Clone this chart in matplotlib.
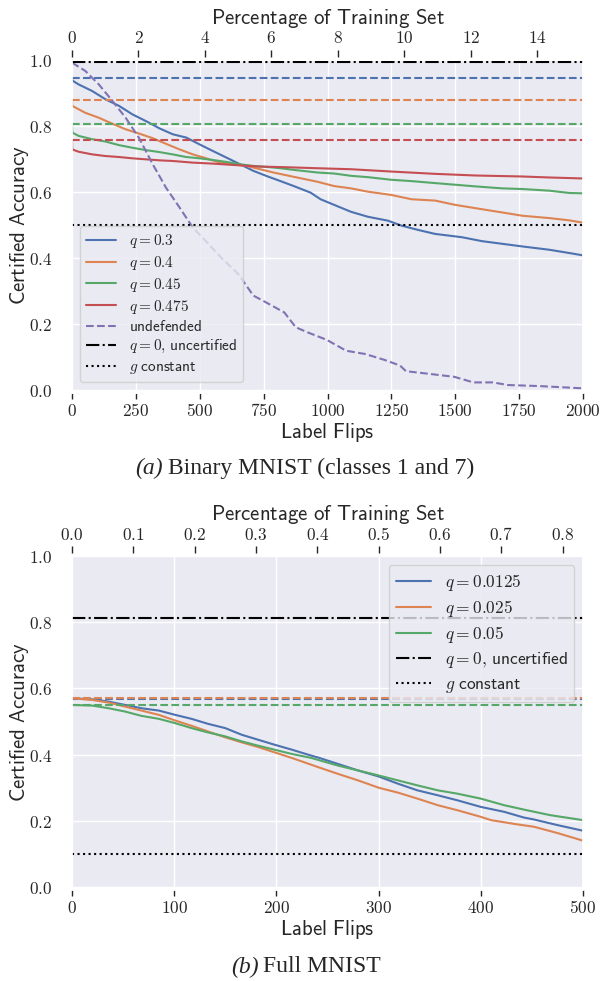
import matplotlib
matplotlib.use('Agg')
import matplotlib.pyplot as plt
import seaborn as sns
from matplotlib.ticker import FixedLocator, FuncFormatter

sns.set_theme(style='darkgrid')
plt.rcParams['font.family'] = ['DejaVu Sans']
plt.rcParams['mathtext.fontset'] = 'cm'

# ---------------- data: Binary MNIST (classes 1 and 7) ----------------
bin_train_size = 13007
bin_labels = [r'$q=0.3$', r'$q=0.4$', r'$q=0.45$', r'$q=0.475$']
bin_clean = [0.946, 0.879, 0.807, 0.759]
bin_uncertified = 0.993
bin_constant = 0.5

bin_q030_x = [0, 1, 26, 79, 131, 184, 237, 289, 342, 394, 447, 500, 552, 605, 658, 710, 763, 816,
              868, 934, 973, 1026, 1092, 1158, 1237, 1290, 1355, 1421, 1526, 1605, 1684, 1763, 1868,
              1947, 2000]
bin_q030_y = [0.946, 0.938, 0.926, 0.906, 0.881, 0.861, 0.835, 0.815, 0.793, 0.775, 0.765, 0.744,
              0.724, 0.704, 0.684, 0.664, 0.648, 0.633, 0.618, 0.598, 0.578, 0.561, 0.540, 0.525,
              0.513, 0.498, 0.485, 0.473, 0.463, 0.451, 0.443, 0.435, 0.425, 0.415, 0.408]

bin_q040_x = [0, 1, 52, 105, 158, 210, 263, 316, 368, 421, 473, 526, 579, 631, 684, 736, 789, 868,
              961, 1026, 1092, 1158, 1250, 1329, 1421, 1500, 1579, 1684, 1763, 1868, 1947, 2000]
bin_q040_y = [0.879, 0.861, 0.840, 0.825, 0.807, 0.790, 0.777, 0.763, 0.746, 0.729, 0.714, 0.702,
              0.689, 0.684, 0.679, 0.669, 0.659, 0.646, 0.631, 0.618, 0.611, 0.601, 0.591, 0.578,
              0.574, 0.561, 0.551, 0.538, 0.528, 0.521, 0.514, 0.507]

bin_q045_x = [0, 1, 26, 79, 131, 184, 237, 289, 342, 394, 447, 500, 552, 605, 658, 710, 763, 816,
              868, 961, 1026, 1092, 1158, 1250, 1329, 1421, 1500, 1579, 1684, 1763, 1868, 1947, 2000]
bin_q045_y = [0.807, 0.780, 0.770, 0.760, 0.753, 0.742, 0.734, 0.727, 0.721, 0.714, 0.706, 0.702,
              0.697, 0.691, 0.684, 0.679, 0.676, 0.672, 0.667, 0.659, 0.656, 0.649, 0.645, 0.637,
              0.633, 0.627, 0.622, 0.617, 0.611, 0.609, 0.604, 0.597, 0.596]

bin_q0475_x = [0, 1, 26, 79, 131, 184, 237, 289, 342, 394, 473, 552, 631, 736, 842, 961, 1092,
               1250, 1421, 1579, 1763, 1868, 2000]
bin_q0475_y = [0.759, 0.729, 0.722, 0.714, 0.709, 0.706, 0.702, 0.699, 0.696, 0.694, 0.689, 0.686,
               0.682, 0.677, 0.675, 0.672, 0.669, 0.662, 0.655, 0.650, 0.647, 0.644, 0.641]

bin_undef_x = [0, 52, 105, 158, 210, 263, 316, 368, 421, 473, 529, 589, 650, 710, 770, 831, 876,
               921, 997, 1073, 1148, 1224, 1284, 1307, 1375, 1496, 1571, 1647, 1707, 1828, 2000]
bin_undef_y = [0.992, 0.967, 0.926, 0.876, 0.825, 0.763, 0.684, 0.613, 0.553, 0.492, 0.447, 0.397,
               0.352, 0.286, 0.261, 0.235, 0.190, 0.175, 0.152, 0.119, 0.109, 0.091, 0.074, 0.057,
               0.051, 0.040, 0.023, 0.023, 0.015, 0.012, 0.005]

# ---------------- data: Full MNIST ----------------
full_train_size = 60000
full_labels = [r'$q=0.0125$', r'$q=0.025$', r'$q=0.05$']
full_clean = [0.568, 0.571, 0.550]
full_uncertified = 0.812
full_constant = 0.1

full_q0125_x = [0, 20, 36, 52, 68, 85, 101, 117, 133, 150, 166, 182, 198, 215, 234, 241, 260, 280,
                300, 319, 338, 358, 377, 400, 423, 442, 452, 475, 500]
full_q0125_y = [0.570, 0.567, 0.560, 0.550, 0.540, 0.533, 0.520, 0.508, 0.493, 0.480, 0.460, 0.445,
                0.430, 0.415, 0.397, 0.391, 0.372, 0.352, 0.334, 0.312, 0.292, 0.277, 0.262, 0.242,
                0.227, 0.210, 0.204, 0.187, 0.170]

full_q025_x = [0, 20, 36, 52, 68, 85, 101, 117, 133, 150, 166, 182, 198, 215, 241, 260, 280, 300,
               319, 338, 358, 377, 400, 410, 434, 452, 475, 500]
full_q025_y = [0.570, 0.565, 0.557, 0.545, 0.533, 0.520, 0.503, 0.487, 0.470, 0.452, 0.437, 0.423,
               0.407, 0.390, 0.362, 0.342, 0.322, 0.300, 0.285, 0.267, 0.247, 0.232, 0.212, 0.202,
               0.190, 0.182, 0.163, 0.140]

full_q05_x = [0, 20, 36, 52, 68, 85, 101, 117, 133, 150, 166, 182, 198, 215, 234, 260, 280, 300,
              319, 338, 358, 377, 400, 423, 442, 468, 500]
full_q05_y = [0.550, 0.548, 0.540, 0.530, 0.517, 0.508, 0.495, 0.480, 0.467, 0.455, 0.440, 0.427,
              0.415, 0.402, 0.390, 0.367, 0.352, 0.337, 0.322, 0.307, 0.292, 0.282, 0.267, 0.247,
              0.234, 0.217, 0.202]

y_ticks = [0.0, 0.2, 0.4, 0.6, 0.8, 1.0]
bin_flip_ticks = [0, 250, 500, 750, 1000, 1250, 1500, 1750, 2000]
bin_pct_ticks = [0, 2, 4, 6, 8, 10, 12, 14]
full_flip_ticks = [0, 100, 200, 300, 400, 500]
full_pct_ticks = [0.0, 0.1, 0.2, 0.3, 0.4, 0.5, 0.6, 0.7, 0.8]

# ---------------- figure ----------------
W, H = 601, 981
fig = plt.figure(figsize=(W / 100, H / 100), dpi=100)
pal = sns.color_palette('deep')
LW = 1.5
TICK_FS = 12.4
LABEL_FS = 15
AX_L, AX_R = 72, 583

def px_axes(left, top, right, bottom):
    return fig.add_axes([left / W, 1 - bottom / H, (right - left) / W, (bottom - top) / H])

def style_axes(ax, xmax, flip_ticks, pct_max, pct_ticks, pct_fmt):
    ax.set_xlim(0, xmax)
    ax.set_ylim(0, 1.0)
    ax.spines['bottom'].set_position(('outward', 2))
    ax.xaxis.set_major_locator(FixedLocator(flip_ticks))
    ax.xaxis.set_major_formatter(FuncFormatter(lambda v, p: r'$%d$' % v))
    ax.yaxis.set_major_locator(FixedLocator(y_ticks))
    ax.yaxis.set_major_formatter(FuncFormatter(lambda v, p: r'$%.1f$' % v))
    ax.tick_params(axis='x', bottom=True, length=4.5, width=1, color='0.15', direction='out',
                   labelsize=TICK_FS, pad=2)
    ax.tick_params(axis='y', left=False, labelsize=TICK_FS, pad=8)
    ax.set_xlabel(r'$\mathsf{Label\ Flips}$', fontsize=LABEL_FS, labelpad=1)
    ax.set_ylabel(r'$\mathsf{Certified\ Accuracy}$', fontsize=LABEL_FS)
    ax.yaxis.set_label_coords((31 - AX_L) / (AX_R - AX_L), 0.5)
    tw = ax.twiny()
    tw.grid(False)
    tw.set_xlim(0, pct_max)
    tw.spines['top'].set_position(('outward', 2))
    tw.xaxis.set_major_locator(FixedLocator(pct_ticks))
    tw.xaxis.set_major_formatter(FuncFormatter(pct_fmt))
    tw.tick_params(axis='x', top=True, length=5, width=1, color='0.15', direction='out',
                   labelsize=TICK_FS, pad=2)
    tw.set_xlabel(r'$\mathsf{Percentage\ of\ Training\ Set}$', fontsize=LABEL_FS, labelpad=4)
    for s in tw.spines.values():
        s.set_visible(False)
    return tw

# ---- (a) Binary MNIST ----
ax1 = px_axes(AX_L, 60, AX_R, 390)
bin_series = [(bin_q030_x, bin_q030_y), (bin_q040_x, bin_q040_y),
              (bin_q045_x, bin_q045_y), (bin_q0475_x, bin_q0475_y)]
handles = []
for i, (xs, ys) in enumerate(bin_series):
    h, = ax1.plot(xs, ys, color=pal[i], lw=LW, label=bin_labels[i])
    ax1.axhline(bin_clean[i], color=pal[i], lw=LW, ls='--')
    handles.append(h)
h, = ax1.plot(bin_undef_x, bin_undef_y, color=pal[4], lw=LW, ls='--', label=r'$\mathsf{undefended}$')
handles.append(h)
h = ax1.axhline(bin_uncertified, color='black', lw=LW, ls='-.', label=r'$q=0,\,\mathsf{uncertified}$')
handles.append(h)
h = ax1.axhline(bin_constant, color='black', lw=LW, ls=':', label=r'$g\ \mathsf{constant}$')
handles.append(h)
style_axes(ax1, 2000, bin_flip_ticks, 2000 / bin_train_size * 100, bin_pct_ticks,
           lambda v, p: r'$%d$' % v)
ax1.legend(handles=handles, loc='lower left', fontsize=11, labelspacing=0.25)

# ---- (b) Full MNIST ----
ax2 = px_axes(AX_L, 556, AX_R, 887)
full_series = [(full_q0125_x, full_q0125_y), (full_q025_x, full_q025_y), (full_q05_x, full_q05_y)]
handles = []
for i, (xs, ys) in enumerate(full_series):
    h, = ax2.plot(xs, ys, color=pal[i], lw=LW, label=full_labels[i])
    ax2.axhline(full_clean[i], color=pal[i], lw=LW, ls='--')
    handles.append(h)
h = ax2.axhline(full_uncertified, color='black', lw=LW, ls='-.', label=r'$q=0,\,\mathsf{uncertified}$')
handles.append(h)
h = ax2.axhline(full_constant, color='black', lw=LW, ls=':', label=r'$g\ \mathsf{constant}$')
handles.append(h)
style_axes(ax2, 500, full_flip_ticks, 500 / full_train_size * 100, full_pct_ticks,
           lambda v, p: r'$%.1f$' % v)
ax2.legend(handles=handles, loc='upper right', fontsize=12.5, labelspacing=0.3)

# ---- captions ----
CAP_FS = 17
renderer = fig.canvas.get_renderer()

def caption(cx, cy, italic, rest):
    t1 = fig.text(0, 1 - cy / H, italic, fontsize=CAP_FS, family='Liberation Serif',
                  style='italic', va='center')
    t2 = fig.text(0, 1 - cy / H, rest, fontsize=CAP_FS, family='Liberation Serif', va='center')
    w1 = t1.get_window_extent(renderer).width
    w2 = t2.get_window_extent(renderer).width
    gap = 5
    x0 = cx - (w1 + gap + w2) / 2
    t1.set_x(x0 / W)
    t2.set_x((x0 + w1 + gap) / W)

caption(305, 468, '(a)', 'Binary MNIST (classes 1 and 7)')
caption(306, 967, '(b)', 'Full MNIST')

fig.savefig('out.png', dpi=100)
